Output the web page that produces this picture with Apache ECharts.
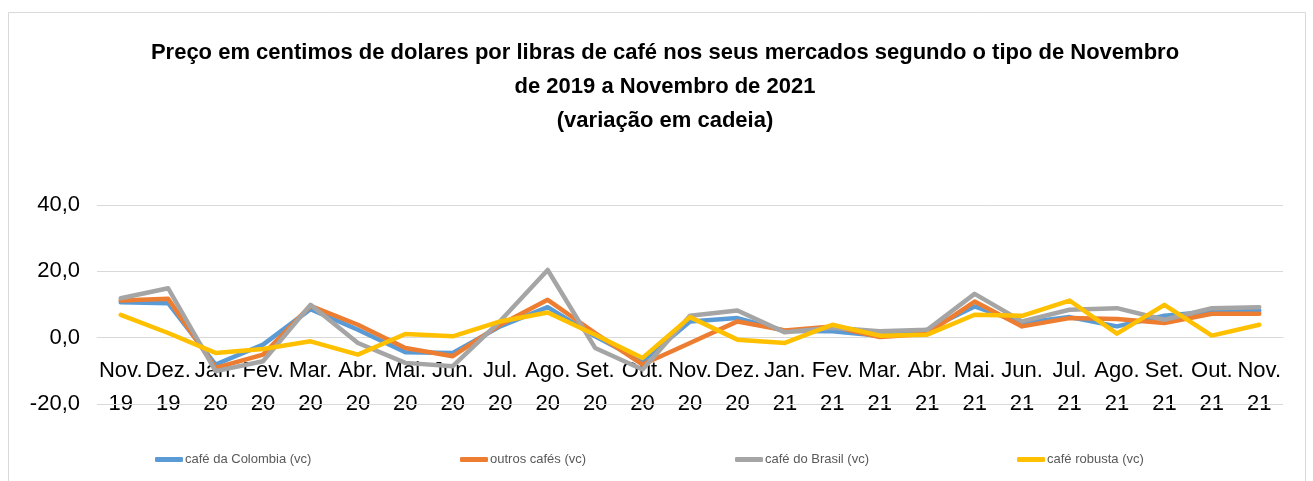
<!DOCTYPE html>
<html><head><meta charset="utf-8">
<script src="https://cdn.jsdelivr.net/npm/echarts@6/dist/echarts.min.js"></script>
<style>html,body{margin:0;padding:0;background:#fff}#c{width:1313px;height:481px}</style>
</head><body><div id="c"></div>
<script>
const categories = ['Nov.\n19','Dez.\n19','Jan.\n20','Fev.\n20','Mar.\n20','Abr.\n20','Mai.\n20','Jun.\n20','Jul.\n20','Ago.\n20','Set.\n20','Out.\n20','Nov.\n20','Dez.\n20','Jan.\n21','Fev.\n21','Mar.\n21','Abr.\n21','Mai.\n21','Jun.\n21','Jul.\n21','Ago.\n21','Set.\n21','Out.\n21','Nov.\n21'];
const colombia = [10.7,10.4,-8.1,-2.1,8.6,2.4,-4.4,-4.6,3.4,9.2,0.4,-7.1,4.9,5.9,2.0,1.9,0.6,2.4,9.4,4.4,6.2,3.4,6.6,7.9,8.1];
const outros   = [11.2,11.7,-9.1,-5.1,9.6,3.9,-3.1,-5.6,3.9,11.4,1.4,-8.1,-1.6,4.9,2.2,3.4,0.2,1.2,10.9,3.4,5.9,5.6,4.4,7.2,7.2];
const brasil   = [11.9,14.9,-10.1,-7.1,9.9,-1.6,-7.6,-8.6,5.0,20.4,-3.1,-9.6,6.6,8.2,1.6,3.0,1.9,2.4,13.2,4.9,8.4,8.9,5.4,8.9,9.2];
const robusta  = [6.9,1.4,-4.6,-3.4,-1.1,-5.1,1.1,0.4,4.9,7.6,0.9,-6.1,6.2,-0.6,-1.6,3.9,0.6,0.9,6.9,6.6,11.2,1.2,9.9,0.6,3.9];
const seriesNames = ['café da Colombia (vc)','outros cafés (vc)','café do Brasil (vc)','café robusta (vc)'];
const colors = ['#5B9BD5','#ED7D31','#A5A5A5','#FFC000'];
const yTicks = {min:-20, max:40, interval:20};
const titleText = 'Preço em centimos de dolares por libras de café nos seus mercados segundo o tipo de Novembro\nde 2019 a Novembro de 2021\n(variação em cadeia)';

const chart = echarts.init(document.getElementById('c'), null, {renderer:'canvas'});
const datasets = [colombia, outros, brasil, robusta];
const legendLefts = [150, 455, 730, 1012];
const narrow = '"Liberation Sans Narrow", "Liberation Sans", Arial, sans-serif';
const gridTop = 205, gridBottom = 77;
const plotH = 481 - gridTop - gridBottom;
const zeroOffset = plotH * (0 - yTicks.min) / (yTicks.max - yTicks.min);
chart.setOption({
  animation:false,
  backgroundColor:'#fff',
  graphic:[{type:'rect', shape:{x:8.5,y:12.5,width:1297,height:480}, style:{fill:'none', stroke:'#d9d9d9', lineWidth:1}}],
  title:{text:titleText, left:660, textAlign:'center', top:31,
    textStyle:{fontFamily:narrow, fontWeight:'bold', fontSize:22, lineHeight:34, color:'#000'}},
  legend: seriesNames.map((n,i)=>({data:[n], left:legendLefts[i], top:448, icon:'roundRect', itemWidth:28, itemHeight:5, itemGap:2,
    textStyle:{fontFamily:narrow, fontSize:13, color:'#595959', padding:[0,0,0,-3]}})),
  grid:{left:97, right:30, top:gridTop, bottom:gridBottom, containLabel:false, outerBoundsMode:'none'},
  xAxis:{type:'category', data:categories, boundaryGap:true, position:'bottom', offset:-zeroOffset,
    axisLine:{onZero:false, lineStyle:{color:'#d9d9d9'}}, axisTick:{show:false},
    axisLabel:{interval:0, margin:17, fontFamily:'"Liberation Sans", Arial, sans-serif', fontSize:22, lineHeight:33, color:'#000'}},
  yAxis:{type:'value', min:yTicks.min, max:yTicks.max, interval:yTicks.interval,
    axisLine:{show:false}, axisTick:{show:false},
    splitLine:{show:true, lineStyle:{color:'#d9d9d9', width:1}},
    axisLabel:{margin:17, fontFamily:'"Liberation Sans", Arial, sans-serif', fontSize:22, color:'#000',
      formatter:v=>v.toFixed(1).replace('.',',')}},
  series: datasets.map((d,i)=>({name:seriesNames[i], type:'line', data:d, symbol:'none', smooth:false, z:3,
    lineStyle:{width:4.5, color:colors[i], cap:'round', join:'round'}, itemStyle:{color:colors[i]},
    markLine: i===0 ? {silent:true, symbol:'none', label:{show:false}, z:1,
      lineStyle:{color:'#d9d9d9', width:1, type:'solid'}, data:[{yAxis:yTicks.min}]} : undefined}))
});
</script></body></html>
